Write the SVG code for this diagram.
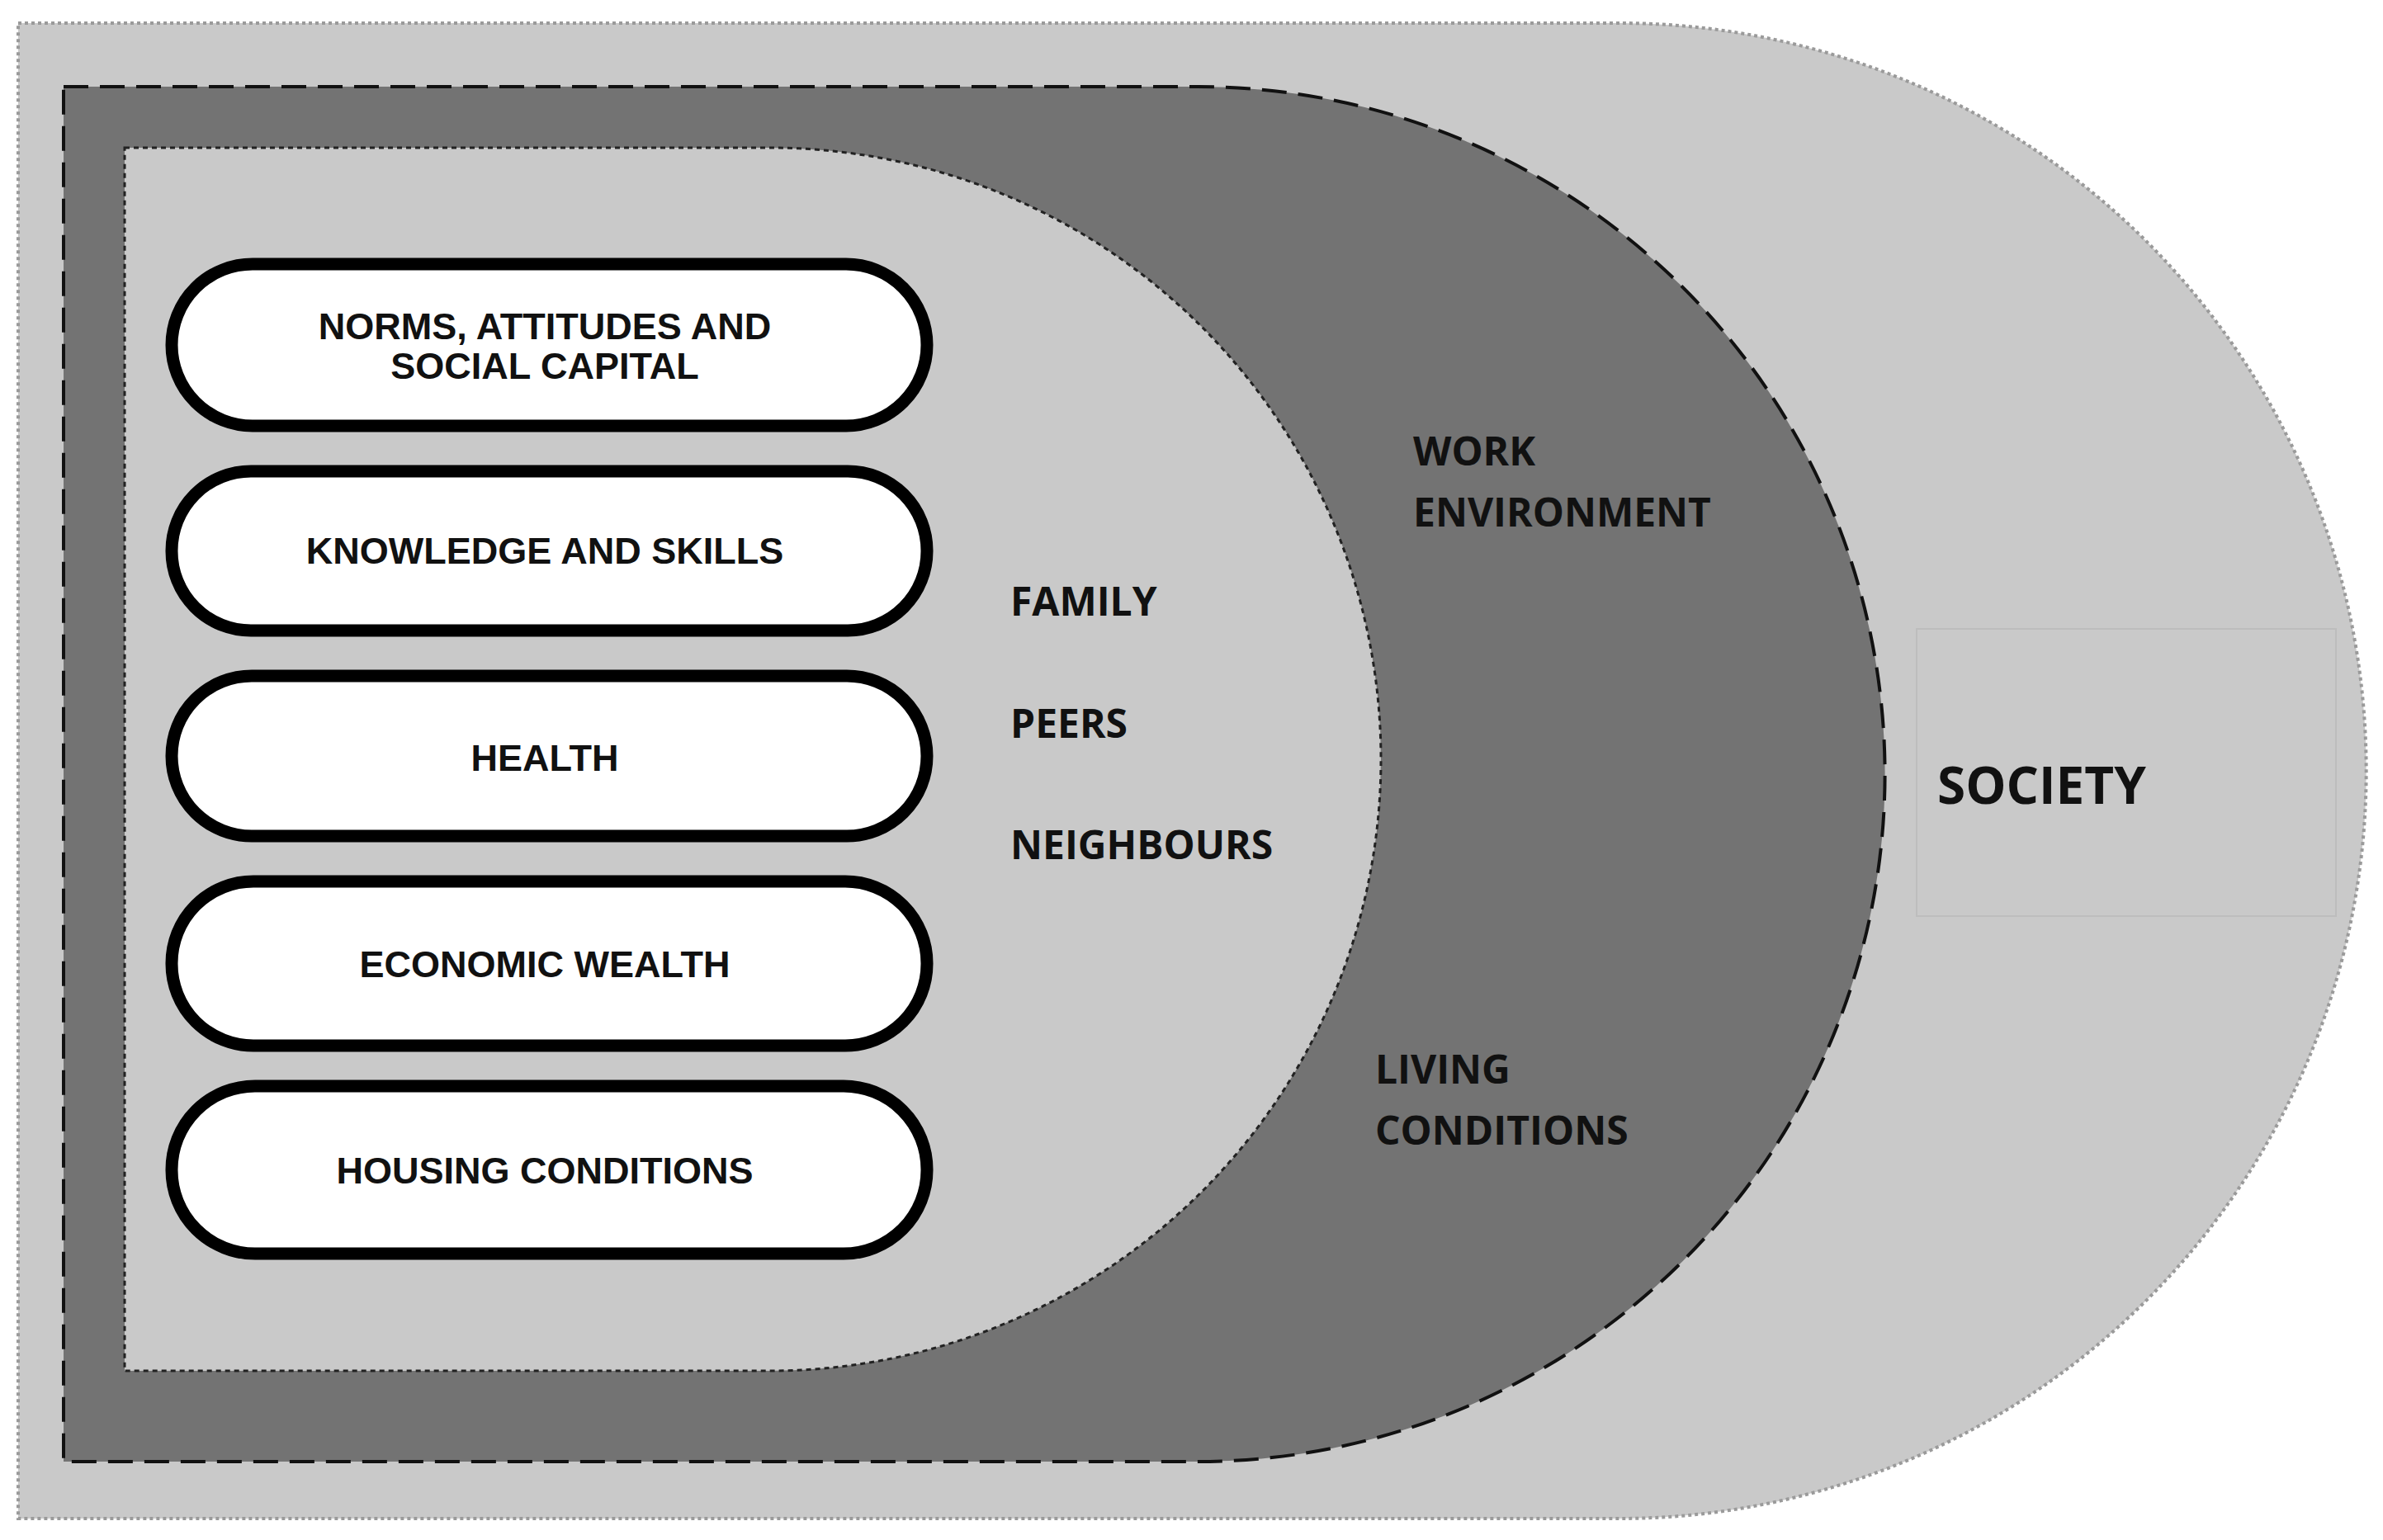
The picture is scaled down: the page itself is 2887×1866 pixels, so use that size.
<svg xmlns="http://www.w3.org/2000/svg" width="2887" height="1866" viewBox="0 0 2887 1866">
<style>
.pill{fill:#fff;stroke:#000;stroke-width:15}
.pt{font-family:"Liberation Sans",Arial,sans-serif;font-weight:bold;font-size:45px;fill:#111;text-anchor:middle;dominant-baseline:central}
.lb{font-family:"Open Sans","Liberation Sans",sans-serif;font-weight:bold;font-size:48px;fill:#111;dominant-baseline:central}
</style>
<rect width="2887" height="1866" fill="#fff"/>
<g id="society">
<path d="M22,28 H1961 A906,906 0 0 1 1961,1840 H22 Z" fill="#c9c9c9" stroke="#9a9a9a" stroke-width="4" stroke-dasharray="4,4"/>
<rect x="2322" y="762" width="508" height="348" fill="none" stroke="#bdbdbd" stroke-width="2"/>
<text class="lb" x="2347" y="950" style="font-size:62px">SOCIETY</text>
</g>
<g id="middle">
<path d="M77,105 H1451 A833,833 0 0 1 1451,1771 H77 Z" fill="#737373" stroke="#111" stroke-width="4" stroke-dasharray="30,14"/>
<text class="lb" x="1712" y="545">WORK</text>
<text class="lb" x="1712" y="619">ENVIRONMENT</text>
<text class="lb" x="1666" y="1294">LIVING</text>
<text class="lb" x="1666" y="1368">CONDITIONS</text>
</g>
<g id="inner">
<path d="M151,179 H932 A741,741 0 0 1 932,1661 H151 Z" fill="#c9c9c9" stroke="#222" stroke-width="3" stroke-dasharray="6,5"/>
<text class="lb" x="1224" y="727">FAMILY</text>
<text class="lb" x="1224" y="875">PEERS</text>
<text class="lb" x="1224" y="1022">NEIGHBOURS</text>
</g>
<g id="norms"><rect class="pill" x="208" y="320" width="915" height="196" rx="98"/><text class="pt" x="660" y="395">NORMS, ATTITUDES AND</text><text class="pt" x="660" y="443">SOCIAL CAPITAL</text></g>
<g id="knowledge"><rect class="pill" x="208" y="571" width="915" height="193" rx="96"/><text class="pt" x="660" y="667">KNOWLEDGE AND SKILLS</text></g>
<g id="health"><rect class="pill" x="208" y="819" width="915" height="194" rx="97"/><text class="pt" x="660" y="918">HEALTH</text></g>
<g id="economic"><rect class="pill" x="208" y="1068" width="915" height="199" rx="99"/><text class="pt" x="660" y="1168">ECONOMIC WEALTH</text></g>
<g id="housing"><rect class="pill" x="208" y="1316" width="915" height="203" rx="101"/><text class="pt" x="660" y="1418">HOUSING CONDITIONS</text></g>
<g id="connectors"/>
</svg>
